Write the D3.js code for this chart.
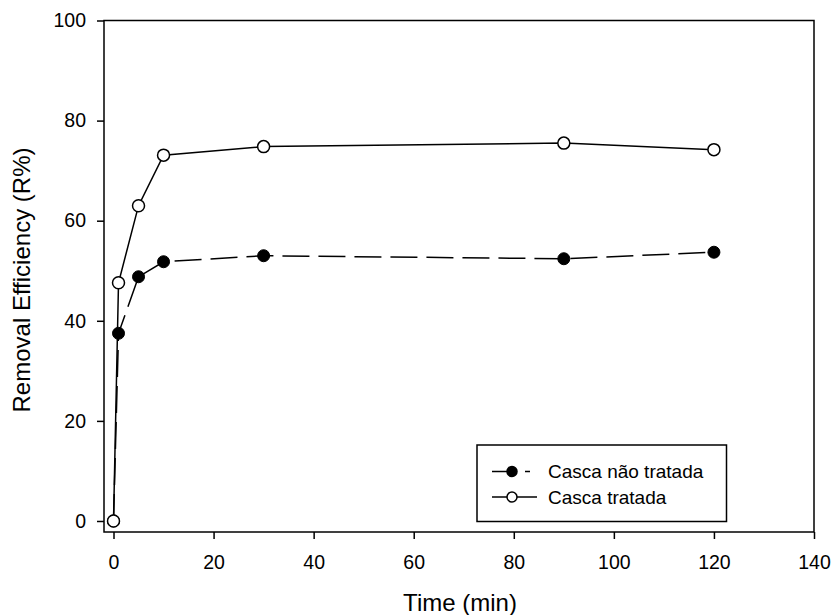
<!DOCTYPE html>
<html><head><meta charset="utf-8">
<script src="https://cdn.jsdelivr.net/npm/d3@7"></script>
<style>body{margin:0;background:#fff}svg{display:block}text{font-family:"Liberation Sans",Arial,sans-serif;fill:#000}</style>
</head><body>
<svg id="c" width="832" height="615"></svg>
<script>
const time = [0, 1, 5, 10, 30, 90, 120];
const cascaNaoTratada = [0, 37.5, 48.8, 51.8, 53.0, 52.4, 53.7];
const cascaTratada = [0, 47.6, 63.0, 73.1, 74.8, 75.5, 74.2];
const xTicks = [0, 20, 40, 60, 80, 100, 120, 140];
const yTicks = [0, 20, 40, 60, 80, 100];
const seriesNames = ["Casca não tratada", "Casca tratada"];

const svg = d3.select("#c");
const L = 104, R = 814, T = 20.5, B = 532;
const x = d3.scaleLinear().domain([-1.9, 140]).range([L, R]);
const y = d3.scaleLinear().domain([-2.2, 100]).range([B, T]);

// frame
svg.append("rect").attr("x", L).attr("y", T).attr("width", R - L).attr("height", B - T)
  .attr("fill", "none").attr("stroke", "#000").attr("stroke-width", 1.5);

const xAxis = svg.append("g").attr("transform", `translate(0,${B})`)
  .call(d3.axisBottom(x).tickValues(xTicks).tickSize(7).tickPadding(16).tickFormat(d3.format("d")));
const yAxis = svg.append("g").attr("transform", `translate(${L},0)`)
  .call(d3.axisLeft(y).tickValues(yTicks).tickSize(7).tickPadding(11).tickFormat(d3.format("d")));
[xAxis, yAxis].forEach(a => {
  a.select(".domain").remove();
  a.selectAll(".tick line").attr("stroke", "#000").attr("stroke-width", 1.5);
  a.selectAll(".tick text").attr("font-size", 19.5).attr("font-family", "Liberation Sans, Arial, sans-serif").attr("fill", "#000");
});

svg.append("text").attr("x", 460).attr("y", 611).attr("text-anchor", "middle")
  .attr("font-size", 24).text("Time (min)");
svg.append("text").attr("transform", `translate(30,280) rotate(-90)`)
  .attr("text-anchor", "middle").attr("font-size", 24).text("Removal Efficiency (R%)");

const line = d3.line().x(d => x(d[0])).y(d => y(d[1]));
const dNT = time.map((t, i) => [t, cascaNaoTratada[i]]);
const dT = time.map((t, i) => [t, cascaTratada[i]]);

svg.append("path").datum(dNT).attr("d", line).attr("fill", "none").attr("stroke", "#000")
  .attr("stroke-width", 1.5).attr("stroke-dasharray", "27,9");
svg.append("path").datum(dT).attr("d", line).attr("fill", "none").attr("stroke", "#000")
  .attr("stroke-width", 1.5);

svg.append("g").selectAll("circle").data(dNT).join("circle")
  .attr("cx", d => x(d[0])).attr("cy", d => y(d[1])).attr("r", 6)
  .attr("fill", "#000").attr("stroke", "#000").attr("stroke-width", 1);
svg.append("g").selectAll("circle").data(dT).join("circle")
  .attr("cx", d => x(d[0])).attr("cy", d => y(d[1])).attr("r", 6)
  .attr("fill", "#fff").attr("stroke", "#000").attr("stroke-width", 1.5);

// legend
const lg = svg.append("g");
lg.append("rect").attr("x", 477).attr("y", 445).attr("width", 249.5).attr("height", 76.5)
  .attr("fill", "#fff").attr("stroke", "#000").attr("stroke-width", 1.5);
const rows = [
  {name: seriesNames[0], y: 471.5, dash: "16,17,5,40", fill: "#000"},
  {name: seriesNames[1], y: 497, dash: null, fill: "#fff"}
];
rows.forEach(r => {
  lg.append("line").attr("x1", 492).attr("x2", 537).attr("y1", r.y).attr("y2", r.y)
    .attr("stroke", "#000").attr("stroke-width", 1.5)
    .attr("stroke-dasharray", r.dash);
  lg.append("circle").attr("cx", 512).attr("cy", r.y).attr("r", 5)
    .attr("fill", r.fill).attr("stroke", "#000").attr("stroke-width", 1.5);
  lg.append("text").attr("x", 548).attr("y", r.y + 6.5).attr("font-size", 19).text(r.name);
});
</script>
</body></html>
